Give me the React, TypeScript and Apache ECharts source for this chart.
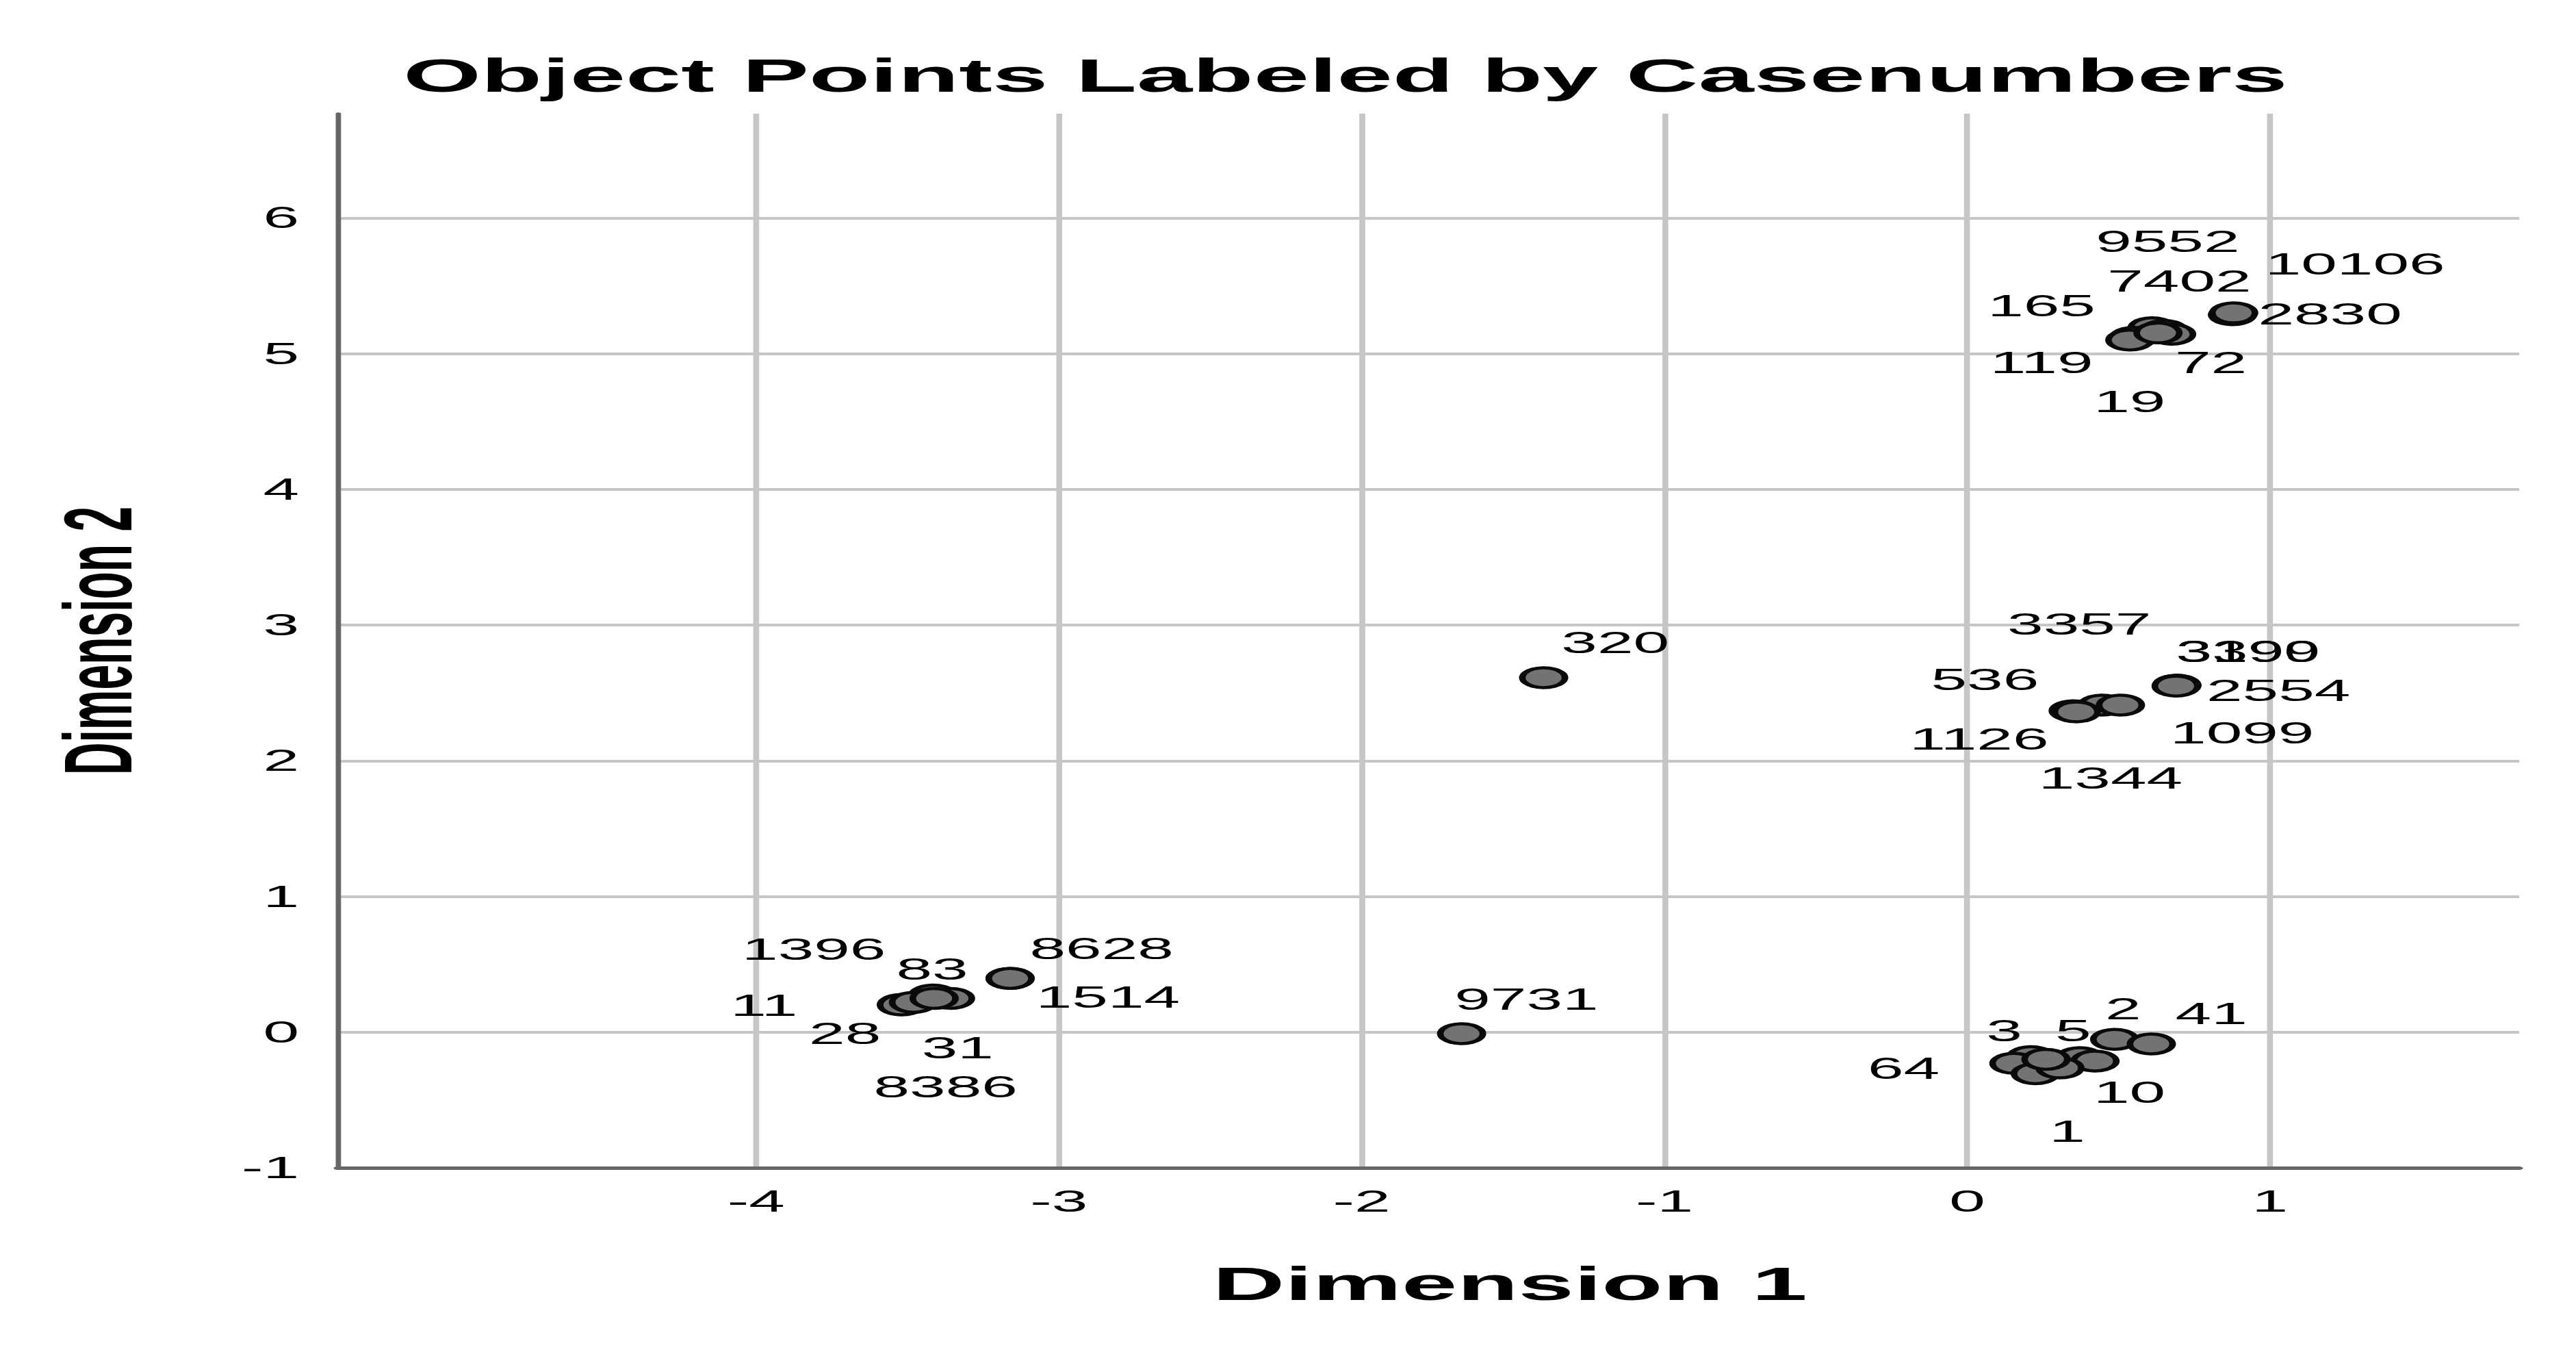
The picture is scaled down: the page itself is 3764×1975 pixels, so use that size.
import React, { useEffect, useRef } from 'react';
import * as echarts from 'echarts';

// ---------------- data ----------------
const TITLE = 'Object Points Labeled by Casenumbers';
const X_NAME = 'Dimension 1';
const Y_NAME = 'Dimension 2';

const CASE_LABELS = [
  '9552', '7402', '165', '119', '72', '19', '2830', '10106',
  '2554', '3399', '3190', '1099', '3357', '536', '1126', '1344',
  '320', '9731',
  '8628', '1514', '1396', '11', '83', '28', '31', '8386',
  '2', '41', '3', '5', '64', '10', '1', '', '',
];

const DIM1 = [
  0.61, 0.65, 0.55, 0.537, 0.675, 0.63, 0.876, 0.88,
  0.692, 0.692, 0.692, 0.69, 0.445, 0.35, 0.36, 0.506,
  -1.399, -1.67,
  -3.161, -3.161, -3.52, -3.52, -3.416, -3.48, -3.358, -3.412,
  0.487, 0.608, 0.21, 0.371, 0.154, 0.422, 0.225, 0.306, 0.26,
];

const DIM2 = [
  5.19, 5.17, 5.12, 5.1, 5.143, 5.152, 5.286, 5.3,
  2.555, 2.556, 2.556, 2.55, 2.41, 2.368, 2.36, 2.41,
  2.612, -0.011,
  0.396, 0.396, 0.204, 0.2, 0.274, 0.22, 0.249, 0.249,
  -0.053, -0.087, -0.18, -0.188, -0.23, -0.213, -0.306, -0.264, -0.2,
];

// ---------------- styling ----------------
const LABEL_OFFSETS = [
  [10.7, -125.7], [10.4, -72.3], [-62.7, -45.6], [-60, 33.1], [26.7, 41.6], [-19.3, 100.7], [66.3, -0.7], [82.5, -71.5],
  [69.1, 8.0], [48.4, -48.8], [48.4, -48.8], [44.9, 68.7], [-15.4, -118.3], [-60, -45.1], [-66, 39.7], [-6.7, 107],
  [48.7, -50.7], [44.1, -50.4],
  [62.2, -43], [66.5, 27.4], [-59.5, -81], [-93.4, 0.6], [-0.5, -38.1], [-46.6, 45.6], [4.9, 72], [7.8, 129.4],
  [5.7, -44.9], [40.8, -43.9], [-18.1, -38.1], [-4.3, -39.7], [-74.9, 7.4], [23.4, 46.1], [21.6, 84.6], [0, 0], [0, 0],
];

const PAGE_W = 3764;
const PAGE_H = 1975;
const CHART_W = 1751;
const STRETCH = PAGE_W / CHART_W;
const FONT = '"Liberation Sans", Arial, Helvetica, sans-serif';
const GRID_COLOR = '#c6c6c6';
const AXIS_COLOR = '#666666';
const NONE = 'rgba(0,0,0,0)';

export default function App() {
  const ref = useRef<HTMLDivElement>(null);

  useEffect(() => {
    if (!ref.current) return;
    const chart = echarts.init(ref.current, undefined, { renderer: 'svg' });

    const data = DIM1.map((x, i) => ({
      value: [x, DIM2[i]],
      name: CASE_LABELS[i],
      label: { offset: LABEL_OFFSETS[i] },
    }));

    chart.setOption({
      animation: false,
      backgroundColor: '#ffffff',
      textStyle: { fontFamily: FONT },
      grid: {
        left: 229.3,
        right: 38.6,
        top: 166,
        bottom: 269,
        containLabel: false,
        outerBoundsMode: 'none',
      },
      graphic: [
        {
          type: 'text',
          x: 914.5,
          y: 110,
          silent: true,
          style: {
            text: TITLE,
            font: `bold 68px ${FONT}`,
            fill: '#000',
            align: 'center',
            verticalAlign: 'middle',
          },
        },
      ],
      xAxis: {
        type: 'value',
        min: -5.383,
        max: 1.823,
        splitNumber: 7,
        minInterval: 1,
        maxInterval: 1,
        axisLine: {
          show: true,
          onZero: false,
          lineStyle: { color: AXIS_COLOR, width: 5 },
        },
        axisTick: { show: false },
        axisLabel: {
          show: true,
          margin: 27,
          color: '#000',
          fontSize: 44,
          fontFamily: FONT,
          showMinLabel: false,
          showMaxLabel: false,
          formatter: (v: number) => (Math.abs(v + 5) < 1e-6 ? '' : String(v)),
        },
        splitLine: {
          show: true,
          showMinLine: false,
          showMaxLine: false,
          lineStyle: {
            color: [NONE, GRID_COLOR, GRID_COLOR, GRID_COLOR, GRID_COLOR, GRID_COLOR, GRID_COLOR, NONE],
            width: 4,
          },
        },
        name: X_NAME,
        nameLocation: 'middle',
        nameGap: 135,
        nameTextStyle: {
          fontSize: 68,
          fontWeight: 'bold',
          color: '#000',
          fontFamily: FONT,
          padding: [0, 0, 0, 111],
        },
      },
      yAxis: {
        type: 'value',
        min: -1,
        max: 6.768,
        interval: 1,
        axisLine: { show: true, onZero: false, lineStyle: { color: AXIS_COLOR, width: 3.6 } },
        axisTick: { show: false },
        axisLabel: {
          show: true,
          margin: 26,
          color: '#000',
          fontSize: 44,
          fontFamily: FONT,
          showMaxLabel: false,
        },
        splitLine: {
          show: true,
          showMinLine: false,
          showMaxLine: false,
          lineStyle: { color: GRID_COLOR, width: 4 },
        },
        name: Y_NAME,
        nameLocation: 'middle',
        nameGap: 130,
        nameRotate: 90,
        nameTextStyle: {
          fontSize: 66,
          fontWeight: 'bold',
          color: '#000',
          fontFamily: FONT,
        },
      },
      series: [
        {
          type: 'scatter',
          symbol: 'circle',
          symbolSize: 29,
          itemStyle: { color: '#737373', borderColor: '#0a0a0a', borderWidth: 4.5, opacity: 1 },
          label: {
            show: true,
            position: 'inside',
            formatter: '{b}',
            color: '#000',
            fontSize: 44,
            fontFamily: FONT,
          },
          emphasis: { disabled: true },
          data,
        },
      ],
    });

    return () => chart.dispose();
  }, []);

  return (
    <div
      style={{
        position: 'absolute',
        left: 0,
        top: 0,
        width: PAGE_W,
        height: PAGE_H,
        overflow: 'hidden',
        background: '#fff',
      }}
    >
      <div
        ref={ref}
        style={{
          width: CHART_W,
          height: PAGE_H,
          transform: `scaleX(${STRETCH})`,
          transformOrigin: '0 0',
        }}
      />
    </div>
  );
}
